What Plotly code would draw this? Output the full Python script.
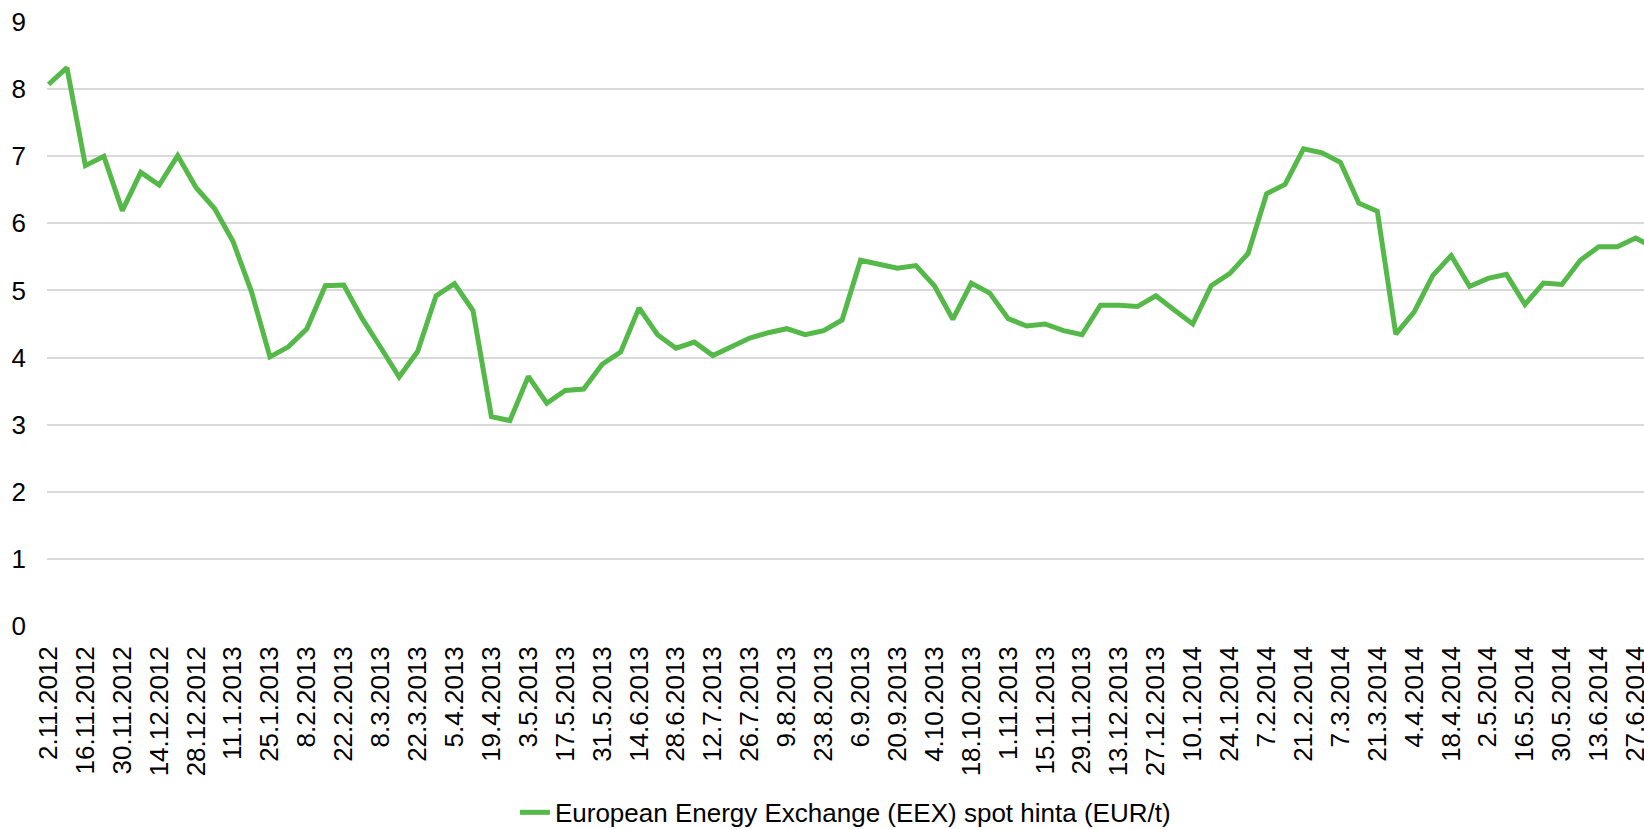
import pandas as pd
import plotly.graph_objects as go

# Weekly EEX spot price, EUR/t, starting Friday 2 Nov 2012
week_start = "2012-11-02"
spot_price = [
    8.07, 8.32, 6.86, 7.00, 6.19, 6.76, 6.57, 7.01, 6.53, 6.22,
    5.73, 4.98, 4.01, 4.16, 4.43, 5.07, 5.08, 4.58, 4.15, 3.71,
    4.09, 4.92, 5.10, 4.70, 3.12, 3.06, 3.72, 3.32, 3.51, 3.53,
    3.90, 4.08, 4.74, 4.34, 4.14, 4.23, 4.03, 4.16, 4.29, 4.37,
    4.43, 4.34, 4.40, 4.56, 5.45, 5.39, 5.33, 5.37, 5.07, 4.57,
    5.11, 4.96, 4.58, 4.47, 4.50, 4.40, 4.34, 4.78, 4.78, 4.76,
    4.92, 4.71, 4.50, 5.07, 5.25, 5.55, 6.44, 6.58, 7.11, 7.05,
    6.91, 6.30, 6.18, 4.35, 4.68, 5.22, 5.52, 5.06, 5.18, 5.24,
    4.79, 5.11, 5.09, 5.45, 5.65, 5.65, 5.78, 5.64,
]
series_name = "European Energy Exchange (EEX) spot hinta (EUR/t)"
y_ticks = list(range(0, 10))

weeks = pd.date_range(week_start, periods=len(spot_price), freq="7D")
week_labels = [f"{d.day}.{d.month}.{d.year}" for d in weeks]
tick_labels = week_labels[::2]

FONT = "Liberation Sans, Arial, sans-serif"
FS = 26

fig = go.Figure()
fig.add_trace(go.Scatter(
    x=week_labels,
    y=spot_price,
    mode="lines",
    name=series_name,
    line=dict(color="#54B948", width=5),
))

fig.update_layout(
    width=1644,
    height=829,
    margin=dict(l=47, r=0, t=22, b=203, autoexpand=False),
    paper_bgcolor="white",
    plot_bgcolor="white",
    font=dict(family=FONT, size=FS, color="#000000"),
    showlegend=True,
    legend=dict(
        orientation="h",
        x=0.293, xanchor="left",
        yref="container",
        y=0.02, yanchor="middle",
        font=dict(family=FONT, size=FS, color="#000000"),
        bgcolor="rgba(0,0,0,0)",
    ),
    xaxis=dict(
        type="category",
        categoryorder="array",
        categoryarray=week_labels,
        range=[-0.08, 86.45],
        tickmode="array",
        tickvals=tick_labels,
        ticktext=tick_labels,
        tickangle=-90,
        tickfont=dict(family=FONT, size=FS, color="#000000"),
        showgrid=False,
        zeroline=False,
        showline=False,
        ticks="",
        ticklabelstandoff=14,
        automargin=False,
    ),
    yaxis=dict(
        range=[0, 9],
        tickmode="array",
        tickvals=y_ticks,
        ticktext=[str(v) for v in y_ticks],
        tickfont=dict(family=FONT, size=FS, color="#000000"),
        showgrid=True,
        gridcolor="#D9D9D9",
        gridwidth=1.5,
        zeroline=False,
        showline=False,
        ticks="",
        ticklabelstandoff=20,
        automargin=False,
    ),
)

fig.write_html("out.html")
